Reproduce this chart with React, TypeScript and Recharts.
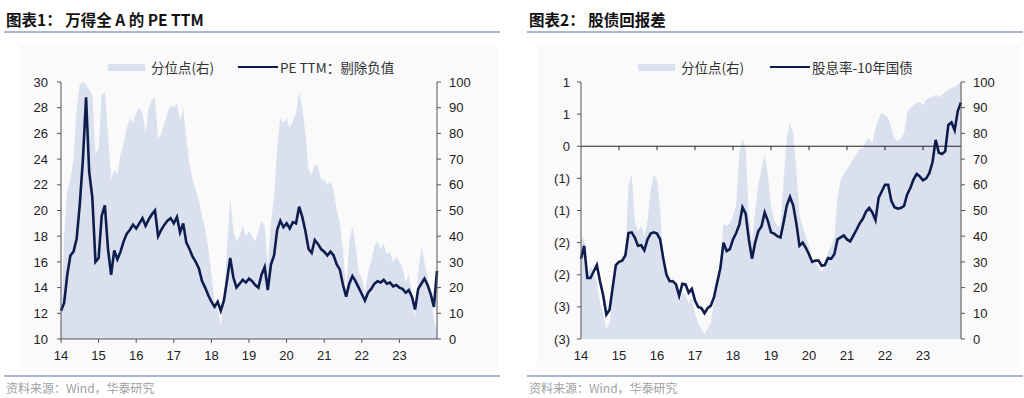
import React from 'react';
import { ComposedChart, Area, Line, XAxis, YAxis, ReferenceLine } from 'recharts';

// x = month index from the start of 2014, one year label every 12 months
const yearLabels = ['14', '15', '16', '17', '18', '19', '20', '21', '22', '23'];

// 图表1: PE TTM (left axis) and its percentile (right axis)
const peTtm = [
  12.2, 12.8, 15.0, 16.5, 16.8, 17.8, 20.5, 24.0, 28.8, 23.0, 21.0, 16.0,
  16.3, 19.6, 20.4, 17.0, 15.0, 16.9, 16.2, 16.8, 17.6, 18.2, 18.5, 18.9,
  18.6, 19.0, 19.4, 18.8, 19.3, 19.7, 20.0, 18.0, 18.5, 18.9, 19.2, 19.4,
  19.0, 19.5, 18.3, 19.0, 17.5, 17.0, 16.4, 16.0, 15.5, 14.5, 14.0, 13.4,
  12.9, 12.5, 12.9, 12.2, 13.0, 14.6, 16.3, 14.8, 14.0, 14.3, 14.6, 14.4,
  14.7, 14.5, 14.2, 14.0, 15.0, 15.6, 13.8, 15.8, 16.5, 18.5, 19.2, 18.7,
  19.0, 18.6, 19.1, 19.0, 20.3, 19.5, 18.4, 17.0, 16.7, 17.7, 17.4, 17.0,
  16.8, 16.5, 16.8, 16.5, 15.8, 15.4, 14.2, 13.3, 14.3, 14.9, 14.5, 14.0,
  13.5, 13.0, 13.6, 13.9, 14.3, 14.5, 14.4, 14.6, 14.3, 14.4, 14.1, 14.2,
  14.0, 13.9, 13.6, 13.8, 13.3, 12.3, 13.9, 14.3, 14.7, 14.2, 13.5, 12.5,
  15.3,
];
const pePct = [
  5, 40, 58, 62, 70, 90, 99, 100, 99, 97, 95, 72,
  74, 95, 96, 80, 62, 66, 64, 72, 76, 82, 86, 84,
  88, 90, 88, 80, 90, 93, 94, 78, 80, 84, 88, 91,
  90, 92, 85, 90, 78, 68, 62, 58, 54, 48, 43, 35,
  25, 15, 12, 5, 15, 35, 55, 42, 38, 40, 44, 40,
  42, 40, 38, 42, 46, 44, 28, 45, 55, 75, 86, 84,
  86, 82, 85, 88, 96, 90, 80, 66, 64, 68, 67, 62,
  62, 60, 61, 58, 50, 45, 35, 18, 38, 44, 36, 26,
  24, 18, 26, 30, 36, 38, 35, 37, 33, 34, 30, 32,
  30, 28, 22, 25, 18, 8, 26, 36, 30, 24, 16, 8,
  2,
];

// 图表2: dividend yield minus 10y bond (left axis) and its percentile (right axis)
const erpSpread = [
  -1.75, -1.55, -2.05, -2.05, -1.95, -1.85, -2.1, -2.32, -2.62, -2.55, -2.2, -1.85,
  -1.8, -1.78, -1.7, -1.35, -1.34, -1.42, -1.55, -1.54, -1.62, -1.45, -1.36, -1.34,
  -1.36, -1.45, -1.75, -2.0, -2.1, -2.1, -2.15, -2.33, -2.14, -2.15, -2.28, -2.22,
  -2.4, -2.5, -2.52, -2.6, -2.52, -2.48, -2.35, -2.12, -1.9, -1.5, -1.63, -1.6,
  -1.45, -1.35, -1.22, -0.95, -1.05, -1.45, -1.75, -1.5, -1.32, -1.25, -1.03, -1.16,
  -1.34, -1.36, -1.4, -1.42, -1.18, -0.92, -0.79, -0.92, -1.2, -1.55, -1.5, -1.58,
  -1.68, -1.8, -1.78, -1.78, -1.86, -1.85, -1.74, -1.75, -1.68, -1.45, -1.42, -1.39,
  -1.45, -1.48, -1.39, -1.3, -1.2, -1.13, -1.02, -0.96, -1.03, -1.15, -0.8, -0.7,
  -0.6, -0.6, -0.85, -0.95, -0.97, -0.96, -0.93, -0.75, -0.65, -0.52, -0.43, -0.47,
  -0.53, -0.5, -0.42, -0.25, 0.1, -0.1, -0.12, -0.08, 0.33, 0.37, 0.25, 0.55,
  0.68,
];
const erpPct = [
  38, 40, 25, 28, 26, 22, 14, 10, 4, 6, 18, 28,
  30, 30, 32, 60, 64, 46, 42, 44, 40, 46, 58, 64,
  62, 50, 30, 25, 22, 24, 20, 14, 18, 17, 14, 16,
  10, 6, 4, 2, 4, 6, 14, 20, 30, 45, 44, 45,
  48, 52, 72, 78, 74, 48, 38, 50, 60, 66, 72, 64,
  52, 46, 44, 44, 62, 78, 84, 80, 66, 48, 44, 40,
  36, 30, 30, 28, 26, 28, 34, 36, 40, 55, 62, 64,
  66, 68, 70, 72, 74, 74, 77, 78, 76, 82, 86, 88,
  87, 86, 82, 78, 77, 78, 80, 88, 90, 91, 92, 92,
  91, 93, 94, 94, 95, 94, 95, 96, 97, 98, 98, 99,
  100,
];

const peTicks = [10, 12, 14, 16, 18, 20, 22, 24, 26, 28, 30];
const erpTicks = [-3, -2.5, -2, -1.5, -1, -0.5, 0, 0.5, 1];
const pctTicks = [0, 10, 20, 30, 40, 50, 60, 70, 80, 90, 100];

const AREA = '#dae0ee';
const NAVY = '#0e1d4e';
const AXIS = '#555';
const RULE = '#a9b8ca';
const LATIN = '"Liberation Sans", Arial, sans-serif';
const CJK = '"Noto Sans CJK SC", "Liberation Sans", sans-serif';

const yearTicks = yearLabels.map((_, i) => i * 12);
const fmtYear = (v: number) => yearLabels[v / 12] ?? '';
// Excel style "0;(0)" – rounds half away from zero
const fmtParen = (v: number) => (v < 0 ? `(${Math.round(-v)})` : String(Math.round(v)));

const peData = peTtm.map((v, i) => ({ m: i, val: v, pct: pePct[i] }));
const erpData = erpSpread.map((v, i) => ({ m: i, val: v, pct: erpPct[i] }));

const tickStyle = { fill: '#222', fontSize: 13, fontFamily: LATIN };

const Legend2 = ({ x, lineX, text1, text2 }: { x: number; lineX: number; text1: string; text2: string }) => (
  <div style={{ position: 'absolute', top: 57, left: x, height: 20, fontFamily: CJK, fontSize: 13.5, color: '#333' }}>
    <div style={{ position: 'absolute', left: 0, top: 7, width: 37, height: 7, background: AREA }} />
    <div style={{ position: 'absolute', left: 43, top: 0, whiteSpace: 'nowrap', lineHeight: '20px' }}>{text1}</div>
    <div style={{ position: 'absolute', left: lineX, top: 9, width: 40, height: 2, background: NAVY }} />
    <div style={{ position: 'absolute', left: lineX + 42, top: 0, whiteSpace: 'nowrap', lineHeight: '20px' }}>{text2}</div>
  </div>
);

const Panel = ({ left, title }: { left: number; title: string }) => (
  <>
    <div style={{ position: 'absolute', left: left + 6, top: 8, fontFamily: CJK, fontWeight: 700, fontSize: 15.5, color: '#111', whiteSpace: 'nowrap' }}>
      {title}
    </div>
    <div style={{ position: 'absolute', left: left + 4, top: 31, width: 496, height: 2, background: RULE }} />
    <div style={{ position: 'absolute', left: left + 4, top: 375, width: 496, height: 2, background: RULE }} />
    <div style={{ position: 'absolute', left: left + 6, top: 379, fontFamily: CJK, fontSize: 12, color: '#a0a0a0', whiteSpace: 'nowrap' }}>
      资料来源：Wind，华泰研究
    </div>
  </>
);

export default function App() {
  return (
    <div style={{ position: 'absolute', left: 0, top: 0, width: 1024, height: 398, background: '#fff', overflow: 'hidden' }}>
      <Panel left={0} title="图表1：  万得全 A 的 PE TTM" />
      <Panel left={523} title="图表2：  股债回报差" />
      <div style={{ position: 'absolute', left: 20, top: 45, width: 478, height: 322, background: '#fafafa' }} />
      <div style={{ position: 'absolute', left: 537, top: 45, width: 483, height: 322, background: '#fafafa' }} />

      <Legend2 x={108} lineX={130} text1="分位点(右)" text2="PE TTM：剔除负值" />
      <Legend2 x={638} lineX={132} text1="分位点(右)" text2="股息率-10年国债" />

      <div style={{ position: 'absolute', left: 0, top: 40 }}>
        <ComposedChart width={500} height={330} data={peData} margin={{ top: 42, right: 18, bottom: 1, left: 21 }}>
          <XAxis
            dataKey="m"
            type="number"
            domain={[0, 120]}
            ticks={yearTicks}
            interval={0}
            tickFormatter={fmtYear}
            axisLine={{ stroke: AXIS }}
            tickLine={{ stroke: AXIS }}
            tickSize={4}
            tickMargin={8}
            tick={tickStyle}
            height={30}
          />
          <YAxis
            yAxisId="l"
            domain={[10, 30]}
            ticks={peTicks}
            interval={0}
            width={40}
            axisLine={{ stroke: AXIS }}
            tickLine={{ stroke: AXIS }}
            tickSize={4}
            tickMargin={9}
            tick={tickStyle}
          />
          <YAxis
            yAxisId="r"
            orientation="right"
            domain={[0, 100]}
            ticks={pctTicks}
            interval={0}
            width={45}
            axisLine={{ stroke: AXIS }}
            tickLine={{ stroke: AXIS }}
            tickSize={4}
            tickMargin={8}
            tick={tickStyle}
          />
          <Area yAxisId="r" dataKey="pct" type="linear" fill={AREA} fillOpacity={1} stroke="none" isAnimationActive={false} />
          <Line yAxisId="l" dataKey="val" type="linear" stroke={NAVY} strokeWidth={2.6} dot={false} isAnimationActive={false} />
        </ComposedChart>
      </div>

      <div style={{ position: 'absolute', left: 520, top: 40 }}>
        <ComposedChart width={500} height={330} data={erpData} margin={{ top: 42, right: 14, bottom: 1, left: 21 }}>
          <XAxis
            dataKey="m"
            type="number"
            domain={[0, 120]}
            ticks={yearTicks}
            interval={0}
            tickFormatter={fmtYear}
            axisLine={false}
            tickLine={false}
            tickSize={4}
            tickMargin={8}
            tick={tickStyle}
            height={30}
          />
          <YAxis
            yAxisId="l"
            domain={[-3, 1]}
            ticks={erpTicks}
            interval={0}
            tickFormatter={fmtParen}
            width={40}
            axisLine={{ stroke: AXIS }}
            tickLine={{ stroke: AXIS }}
            tickSize={4}
            tickMargin={7}
            tick={tickStyle}
          />
          <YAxis
            yAxisId="r"
            orientation="right"
            domain={[0, 100]}
            ticks={pctTicks}
            interval={0}
            width={45}
            axisLine={{ stroke: AXIS }}
            tickLine={{ stroke: AXIS }}
            tickSize={4}
            tickMargin={8}
            tick={tickStyle}
          />
          <Area yAxisId="r" dataKey="pct" type="linear" fill={AREA} fillOpacity={1} stroke="none" isAnimationActive={false} />
          <ReferenceLine yAxisId="l" y={0} stroke="#222" strokeWidth={1} />
          {yearTicks.slice(1).map((t) => (
            <ReferenceLine
              key={t}
              yAxisId="l"
              segment={[{ x: t, y: 0 }, { x: t, y: -0.06 }]}
              stroke="#222"
              strokeWidth={1}
            />
          ))}
          <Line yAxisId="l" dataKey="val" type="linear" stroke={NAVY} strokeWidth={2.6} dot={false} isAnimationActive={false} />
        </ComposedChart>
      </div>
    </div>
  );
}
